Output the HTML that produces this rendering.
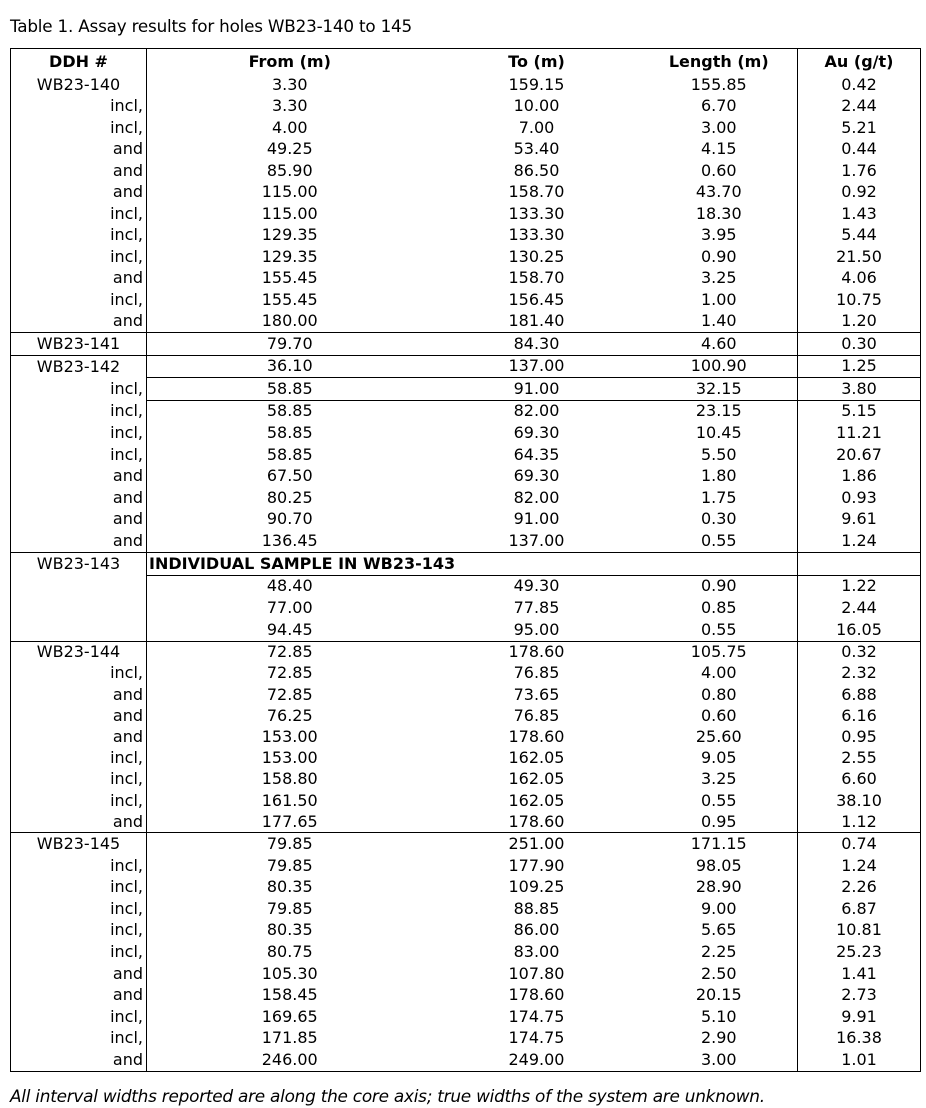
<!DOCTYPE html>
<html><head><meta charset="utf-8"><style>
html,body{margin:0;padding:0;background:#fff;width:926px;height:1108px;overflow:hidden}
body{font-family:"DejaVu Sans","Liberation Sans",sans-serif;color:#000;position:relative}
.cap{position:absolute;left:10px;top:16px;font-size:16.8px;letter-spacing:-0.2px}
.foot{position:absolute;left:10px;top:1086px;font-size:16.9px;font-style:italic;letter-spacing:-0.25px}
table{position:absolute;left:10px;top:48px;width:910px;border-collapse:collapse;table-layout:fixed;font-size:16px;border:1px solid #000}
td,th{padding:0;line-height:18px;text-align:center;white-space:nowrap;overflow:hidden}
th{font-weight:bold;height:25px;vertical-align:middle}
td.d{border-right:1px solid #000}
td.a{border-left:1px solid #000}
td.r{text-align:right;padding-right:3px}
tr.b td{border-top:1px solid #000}
tr.p td+td{border-top:1px solid #000}
.k1 td{height:21.5px}.k3 td{height:21.6px}.k4 td{height:21.7px}.k5 td{height:21.2px}.k6 td{height:21.6px}
</style></head><body>
<div class="cap">Table 1. Assay results for holes WB23-140 to 145</div>
<table>
<colgroup><col style="width:136px"><col style="width:286px"><col style="width:208px"><col style="width:157px"><col style="width:123px"></colgroup>
<tr><th class="d" style="border-right:1px solid #000">DDH #</th><th>From (m)</th><th>To (m)</th><th>Length (m)</th><th style="border-left:1px solid #000">Au (g/t)</th></tr>
<tbody class="k1">
<tr><td class="d">WB23-140</td><td>3.30</td><td>159.15</td><td>155.85</td><td class="a">0.42</td></tr>
<tr><td class="d r">incl,</td><td>3.30</td><td>10.00</td><td>6.70</td><td class="a">2.44</td></tr>
<tr><td class="d r">incl,</td><td>4.00</td><td>7.00</td><td>3.00</td><td class="a">5.21</td></tr>
<tr><td class="d r">and</td><td>49.25</td><td>53.40</td><td>4.15</td><td class="a">0.44</td></tr>
<tr><td class="d r">and</td><td>85.90</td><td>86.50</td><td>0.60</td><td class="a">1.76</td></tr>
<tr><td class="d r">and</td><td>115.00</td><td>158.70</td><td>43.70</td><td class="a">0.92</td></tr>
<tr><td class="d r">incl,</td><td>115.00</td><td>133.30</td><td>18.30</td><td class="a">1.43</td></tr>
<tr><td class="d r">incl,</td><td>129.35</td><td>133.30</td><td>3.95</td><td class="a">5.44</td></tr>
<tr><td class="d r">incl,</td><td>129.35</td><td>130.25</td><td>0.90</td><td class="a">21.50</td></tr>
<tr><td class="d r">and</td><td>155.45</td><td>158.70</td><td>3.25</td><td class="a">4.06</td></tr>
<tr><td class="d r">incl,</td><td>155.45</td><td>156.45</td><td>1.00</td><td class="a">10.75</td></tr>
<tr><td class="d r">and</td><td>180.00</td><td>181.40</td><td>1.40</td><td class="a">1.20</td></tr>
<tr class="b"><td class="d">WB23-141</td><td>79.70</td><td>84.30</td><td>4.60</td><td class="a">0.30</td></tr>
</tbody>
<tbody class="k3">
<tr class="b"><td class="d">WB23-142</td><td>36.10</td><td>137.00</td><td>100.90</td><td class="a">1.25</td></tr>
<tr class="p"><td class="d r">incl,</td><td>58.85</td><td>91.00</td><td>32.15</td><td class="a">3.80</td></tr>
<tr class="p"><td class="d r">incl,</td><td>58.85</td><td>82.00</td><td>23.15</td><td class="a">5.15</td></tr>
<tr><td class="d r">incl,</td><td>58.85</td><td>69.30</td><td>10.45</td><td class="a">11.21</td></tr>
<tr><td class="d r">incl,</td><td>58.85</td><td>64.35</td><td>5.50</td><td class="a">20.67</td></tr>
<tr><td class="d r">and</td><td>67.50</td><td>69.30</td><td>1.80</td><td class="a">1.86</td></tr>
<tr><td class="d r">and</td><td>80.25</td><td>82.00</td><td>1.75</td><td class="a">0.93</td></tr>
<tr><td class="d r">and</td><td>90.70</td><td>91.00</td><td>0.30</td><td class="a">9.61</td></tr>
<tr><td class="d r">and</td><td>136.45</td><td>137.00</td><td>0.55</td><td class="a">1.24</td></tr>
</tbody>
<tbody class="k4">
<tr class="b"><td class="d">WB23-143</td><td colspan="3" style="text-align:left;padding-left:2px;font-weight:bold">INDIVIDUAL SAMPLE IN WB23-143</td><td class="a"></td></tr>
<tr class="p"><td class="d"></td><td>48.40</td><td>49.30</td><td>0.90</td><td class="a">1.22</td></tr>
<tr><td class="d"></td><td>77.00</td><td>77.85</td><td>0.85</td><td class="a">2.44</td></tr>
<tr><td class="d"></td><td>94.45</td><td>95.00</td><td>0.55</td><td class="a">16.05</td></tr>
</tbody>
<tbody class="k5">
<tr class="b"><td class="d">WB23-144</td><td>72.85</td><td>178.60</td><td>105.75</td><td class="a">0.32</td></tr>
<tr><td class="d r">incl,</td><td>72.85</td><td>76.85</td><td>4.00</td><td class="a">2.32</td></tr>
<tr><td class="d r">and</td><td>72.85</td><td>73.65</td><td>0.80</td><td class="a">6.88</td></tr>
<tr><td class="d r">and</td><td>76.25</td><td>76.85</td><td>0.60</td><td class="a">6.16</td></tr>
<tr><td class="d r">and</td><td>153.00</td><td>178.60</td><td>25.60</td><td class="a">0.95</td></tr>
<tr><td class="d r">incl,</td><td>153.00</td><td>162.05</td><td>9.05</td><td class="a">2.55</td></tr>
<tr><td class="d r">incl,</td><td>158.80</td><td>162.05</td><td>3.25</td><td class="a">6.60</td></tr>
<tr><td class="d r">incl,</td><td>161.50</td><td>162.05</td><td>0.55</td><td class="a">38.10</td></tr>
<tr><td class="d r">and</td><td>177.65</td><td>178.60</td><td>0.95</td><td class="a">1.12</td></tr>
</tbody>
<tbody class="k6">
<tr class="b"><td class="d">WB23-145</td><td>79.85</td><td>251.00</td><td>171.15</td><td class="a">0.74</td></tr>
<tr><td class="d r">incl,</td><td>79.85</td><td>177.90</td><td>98.05</td><td class="a">1.24</td></tr>
<tr><td class="d r">incl,</td><td>80.35</td><td>109.25</td><td>28.90</td><td class="a">2.26</td></tr>
<tr><td class="d r">incl,</td><td>79.85</td><td>88.85</td><td>9.00</td><td class="a">6.87</td></tr>
<tr><td class="d r">incl,</td><td>80.35</td><td>86.00</td><td>5.65</td><td class="a">10.81</td></tr>
<tr><td class="d r">incl,</td><td>80.75</td><td>83.00</td><td>2.25</td><td class="a">25.23</td></tr>
<tr><td class="d r">and</td><td>105.30</td><td>107.80</td><td>2.50</td><td class="a">1.41</td></tr>
<tr><td class="d r">and</td><td>158.45</td><td>178.60</td><td>20.15</td><td class="a">2.73</td></tr>
<tr><td class="d r">incl,</td><td>169.65</td><td>174.75</td><td>5.10</td><td class="a">9.91</td></tr>
<tr><td class="d r">incl,</td><td>171.85</td><td>174.75</td><td>2.90</td><td class="a">16.38</td></tr>
<tr><td class="d r">and</td><td>246.00</td><td>249.00</td><td>3.00</td><td class="a">1.01</td></tr>
</tbody>
</table>
<div class="foot">All interval widths reported are along the core axis; true widths of the system are unknown.</div>
</body></html>
